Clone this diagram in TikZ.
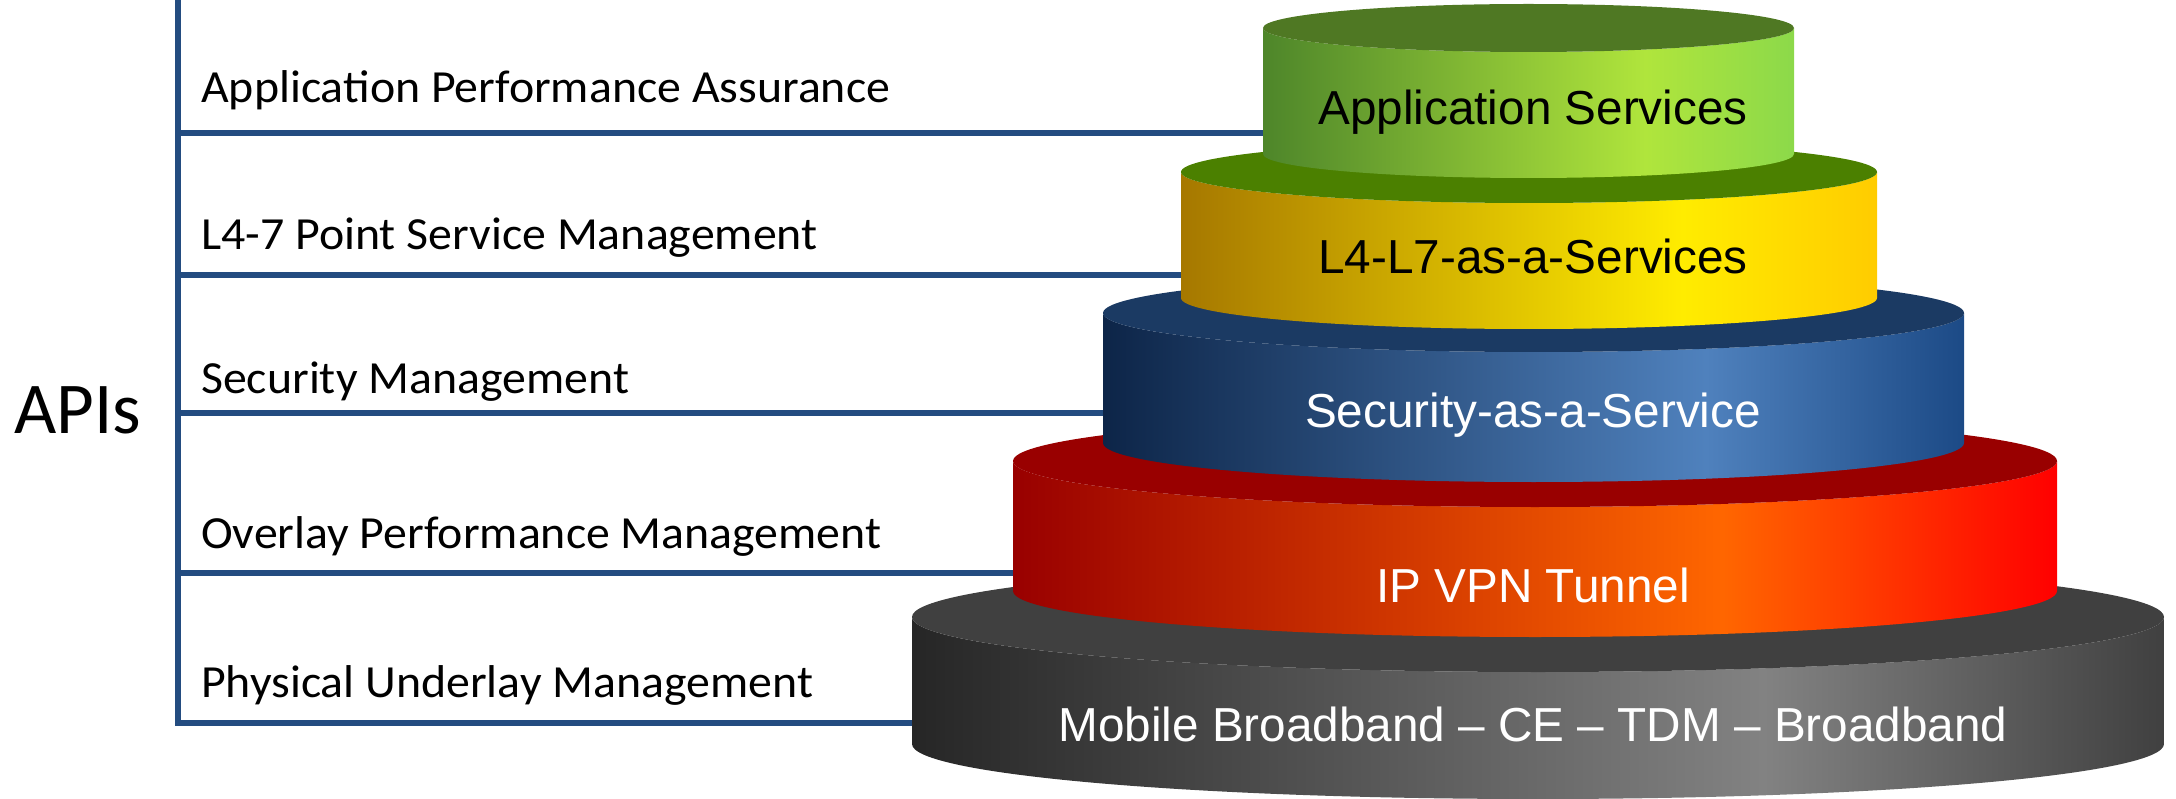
\documentclass[tikz,border=0pt]{standalone}
\usepackage{graphicx}
\usepackage{fontspec}
\setmainfont{Liberation Sans}
\newfontfamily\calibrifont{Carlito}
\definecolor{barblue}{RGB}{35,76,128}
% green
\definecolor{gL}{RGB}{78,134,42}
\definecolor{gM}{RGB}{176,229,60}
\definecolor{gR}{RGB}{140,217,74}
\definecolor{gT}{RGB}{79,120,35}
% yellow
\definecolor{yL}{RGB}{166,120,0}
\definecolor{yM}{RGB}{255,236,0}
\definecolor{yR}{RGB}{255,204,0}
\definecolor{yT}{RGB}{75,128,0}
% blue
\definecolor{bL}{RGB}{13,37,72}
\definecolor{bM}{RGB}{79,129,189}
\definecolor{bR}{RGB}{28,74,134}
\definecolor{bT}{RGB}{27,58,99}
% red
\definecolor{rL}{RGB}{153,0,0}
\definecolor{rM}{RGB}{255,102,0}
\definecolor{rR}{RGB}{255,0,0}
\definecolor{rT}{RGB}{153,0,0}
% gray
\definecolor{kL}{RGB}{38,38,38}
\definecolor{kM}{RGB}{130,130,130}
\definecolor{kR}{RGB}{64,64,64}
\definecolor{kT}{RGB}{64,64,64}
\pgfdeclarehorizontalshading{shgreen}{100bp}{color(0bp)=(gL); color(25bp)=(gL); color(61bp)=(gM); color(75bp)=(gR); color(100bp)=(gR)}
\pgfdeclarehorizontalshading{shyellow}{100bp}{color(0bp)=(yL); color(25bp)=(yL); color(61bp)=(yM); color(75bp)=(yR); color(100bp)=(yR)}
\pgfdeclarehorizontalshading{shblue}{100bp}{color(0bp)=(bL); color(25bp)=(bL); color(60bp)=(bM); color(75bp)=(bR); color(100bp)=(bR)}
\pgfdeclarehorizontalshading{shred}{100bp}{color(0bp)=(rL); color(25bp)=(rL); color(59bp)=(rM); color(75bp)=(rR); color(100bp)=(rR)}
\pgfdeclarehorizontalshading{shgray}{100bp}{color(0bp)=(kL); color(25bp)=(kL); color(59bp)=(kM); color(75bp)=(kR); color(100bp)=(kR)}
% #1 cx, #2 top y, #3 rx, #4 ry, #5 height, #6 shading, #7 top colour
\newcommand{\drawcyl}[7]{%
  \shade[shading=#6] ({#1-#3},{-#2}) -- ({#1-#3},{-#2-#5})
    arc[start angle=180,end angle=360,x radius=#3,y radius=#4]
    -- ({#1+#3},{-#2})
    arc[start angle=0,end angle=-180,x radius=#3,y radius=#4] -- cycle;
  \fill[#7] (#1,{-#2}) ellipse[x radius=#3,y radius=#4];
}
\newcommand{\widelbl}[1]{\scalebox{1.04}[1]{#1}}
\tikzset{
  apiline/.style={draw=barblue,line width=6.5pt},
  lbl/.style={font=\calibrifont\fontsize{46}{52}\selectfont,inner sep=0pt,anchor=base west,text=black},
  cyltext/.style={font=\fontsize{47.7}{54}\selectfont,inner sep=0pt,anchor=base},
}
\begin{document}
\begin{tikzpicture}[x=1pt,y=1pt]
\useasboundingbox (0,0) rectangle (2176,-799);
% bar and branch points
\coordinate (bartop) at (178,2);
\coordinate (b1) at (178,-133);
\coordinate (b2) at (178,-275);
\coordinate (b3) at (178,-413);
\coordinate (b4) at (178,-573);
\coordinate (b5) at (178,-723);
% cylinder left edges
\coordinate (c1) at (1268,-133);
\coordinate (c2) at (1186,-275);
\coordinate (c3) at (1108,-413);
\coordinate (c4) at (1018,-573);
\coordinate (c5) at (917,-723);
\draw[apiline] (bartop) -- ([yshift=-3.25pt]b5);
\draw[apiline] (b1) -- (c1);
\draw[apiline] (b2) -- (c2);
\draw[apiline] (b3) -- (c3);
\draw[apiline] (b4) -- (c4);
\draw[apiline] (b5) -- (c5);
% labels
\node[font=\calibrifont\fontsize{73}{80}\selectfont,inner sep=0pt,anchor=base west] (apis) at (14,-433) {APIs};
\node[lbl] (l1) at (201,-103) {\widelbl{Application Performance Assurance}};
\node[lbl] (l2) at (201,-250) {\widelbl{L4-7 Point Service Management}};
\node[lbl] (l3) at (201,-393) {\widelbl{Security Management}};
\node[lbl] (l4) at (201,-548) {\widelbl{Overlay Performance Management}};
\node[lbl] (l5) at (201,-697) {\widelbl{Physical Underlay Management}};
% cylinders bottom to top
\drawcyl{1538}{617}{626}{55}{127}{shgray}{kT}
\drawcyl{1535}{461}{522}{46}{130}{shred}{rT}
\drawcyl{1533.5}{313}{430.5}{39}{130}{shblue}{bT}
\drawcyl{1529}{172}{348}{31}{126}{shyellow}{yT}
\drawcyl{1528.5}{28}{265.5}{24}{126}{shgreen}{gT}
% cylinder texts
\node[cyltext,text=black] (t1) at (1533,-125) {Application Services};
\node[cyltext,text=black] (t2) at (1533,-274) {L4-L7-as-a-Services};
\node[cyltext,text=white] (t3) at (1533,-427) {Security-as-a-Service};
\node[cyltext,text=white] (t4) at (1533,-602) {IP VPN Tunnel};
\node[cyltext,text=white] (t5) at (1533,-741) {Mobile Broadband – CE – TDM – Broadband};
\end{tikzpicture}
\end{document}
